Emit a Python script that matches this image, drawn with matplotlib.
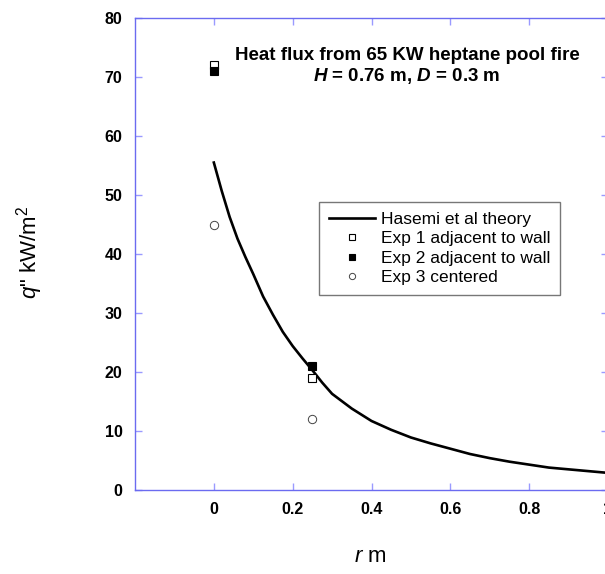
import matplotlib.pyplot as plt

# ─── DATA ──────────────────────────────────────────────────────────────────
theory_r = [0.0, 0.02, 0.04, 0.06, 0.08, 0.1, 0.125, 0.15, 0.175, 0.2, 0.225, 0.25,
            0.275, 0.3, 0.35, 0.4, 0.45, 0.5, 0.55, 0.6, 0.65, 0.7, 0.75, 0.8,
            0.85, 0.9, 0.95, 1.0]
theory_q = [55.5, 50.7, 46.3, 42.6, 39.5, 36.6, 32.8, 29.7, 26.8, 24.4, 22.3, 20.3,
            18.2, 16.3, 13.8, 11.7, 10.2, 8.9, 7.9, 7.0, 6.1, 5.4, 4.8, 4.3,
            3.8, 3.5, 3.2, 2.9]

exp1_r = [0.0, 0.25]
exp1_q = [72, 19]
exp2_r = [0.0, 0.25]
exp2_q = [71, 21]
exp3_r = [0.0, 0.25]
exp3_q = [45, 12]

x_ticks = [0, 0.2, 0.4, 0.6, 0.8, 1.0]
x_tick_labels = ['0', '0.2', '0.4', '0.6', '0.8', '1']
y_ticks = [0, 10, 20, 30, 40, 50, 60, 70, 80]
# ────────────────────────────────────────────────────────────────────────────

plt.rcParams['font.family'] = ['Liberation Sans', 'DejaVu Sans']
plt.rcParams['mathtext.fontset'] = 'custom'
plt.rcParams['mathtext.rm'] = 'Liberation Sans'
plt.rcParams['mathtext.it'] = 'Liberation Sans:italic'
plt.rcParams['mathtext.bf'] = 'Liberation Sans:bold'
plt.rcParams['mathtext.bfit'] = 'Liberation Sans:italic:bold'

SPINE = '#6b6bf0'
TICK = '#9a9aff'

fig = plt.figure(figsize=(6.05, 5.74), dpi=100)
ax = fig.add_axes([135 / 605, 84 / 574, 473 / 605, 472 / 574])

ax.plot(theory_r, theory_q, color='black', lw=1.9, label='Hasemi et al theory', zorder=3)
ax.plot(exp1_r, exp1_q, ls='none', marker='s', ms=6, mfc='white', mec='black', mew=0.8,
        label='Exp 1 adjacent to wall', zorder=4)
ax.plot(exp2_r, exp2_q, ls='none', marker='s', ms=6, mfc='black', mec='black', mew=0.8,
        label='Exp 2 adjacent to wall', zorder=5)
ax.plot(exp3_r, exp3_q, ls='none', marker='o', ms=6, mfc='white', mec='#444444', mew=0.7,
        label='Exp 3 centered', zorder=4)

ax.set_xlim(-0.2, 1.0)
ax.set_ylim(0, 80)
ax.set_xticks(x_ticks)
ax.set_xticklabels(x_tick_labels)
ax.set_yticks(y_ticks)

for s in ax.spines.values():
    s.set_color(SPINE)
    s.set_linewidth(1.0)

ax.tick_params(direction='in', length=5, width=1, color=TICK,
               top=True, right=True, labelsize=11.5, pad=9)
for lab in ax.get_xticklabels() + ax.get_yticklabels():
    lab.set_fontweight('bold')

ax.text(0.575, 0.92, 'Heat flux from 65 KW heptane pool fire',
        transform=ax.transAxes, ha='center', va='center',
        fontsize=13.5, fontweight='bold')
ax.text(0.575, 0.878, r'$\mathbfit{H}$ = 0.76 m, $\mathbfit{D}$ = 0.3 m',
        transform=ax.transAxes, ha='center', va='center',
        fontsize=13.5, fontweight='bold')

leg = ax.legend(loc='upper left', bbox_to_anchor=(0.389, 0.61), fontsize=12.5,
                frameon=True, fancybox=False, edgecolor='#555555',
                handlelength=2.7, handletextpad=0.3, labelspacing=0.25,
                borderpad=0.55, markerscale=0.75, borderaxespad=0)
leg.get_frame().set_linewidth(1.0)

fig.text(30 / 605, 1 - 252 / 574, r'$q$" kW/m$^2$', rotation=90,
         ha='center', va='center', fontsize=16)
fig.text(370 / 605, 1 - 557 / 574, r'$r$ m', ha='center', va='center', fontsize=16)

fig.savefig('out.png', dpi=100)
